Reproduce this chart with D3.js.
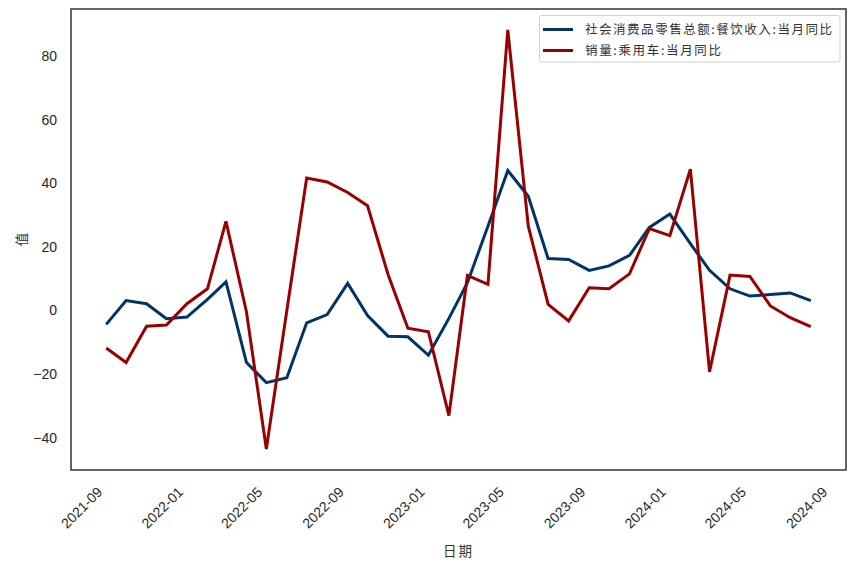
<!DOCTYPE html>
<html>
<head>
<meta charset="utf-8">
<script src="https://cdn.jsdelivr.net/npm/d3@7"></script>
<style>
  html, body { margin: 0; padding: 0; background: #fff; }
  svg { display: block; }
</style>
</head>
<body>
<svg id="chart" width="855" height="566"></svg>
<script>
// ---- data ----
const startMonth = "2021-09";
const seriesNames = ["社会消费品零售总额:餐饮收入:当月同比", "销量:乘用车:当月同比"];
const cateringYoY = [-4.4, 3.1, 2.1, -2.6, -2.1, 3.5, 9.0, -16.4, -22.7, -21.2, -3.9, -1.3,
                     8.5, -1.6, -8.1, -8.3, -14.1, -2.5, 8.7, 26.5, 44.0, 35.9, 16.3, 16.0,
                     12.6, 14.0, 17.3, 26.1, 30.3, 21.0, 12.6, 6.8, 4.5, 5.0, 5.5, 3.1];
const carSalesYoY = [-11.8, -16.4, -5.0, -4.6, 2.1, 6.8, 28.0, -0.5, -43.6, 0.0, 41.6, 40.4,
                     37.1, 32.9, 11.3, -5.6, -6.7, -33.1, 11.0, 8.2, 88.2, 26.5, 1.9, -3.3,
                     7.1, 6.8, 11.5, 25.7, 23.5, 44.4, -19.3, 11.1, 10.7, 1.4, -2.3, -5.1];
const xTickLabels = ["2021-09", "2022-01", "2022-05", "2022-09", "2023-01", "2023-05",
                     "2023-09", "2024-01", "2024-05", "2024-09"];
const yTickValues = [-40, -20, 0, 20, 40, 60, 80];
const xLabel = "日期";
const yLabel = "值";
const colors = ["#003366", "#990000"];

// ---- build ----
const parseMonth = d3.timeParse("%Y-%m");
const start = parseMonth(startMonth);
const dates = cateringYoY.map((_, i) => d3.timeMonth.offset(start, i));
const series = [cateringYoY, carSalesYoY];

const svg = d3.select("#chart");
const plot = { left: 71, right: 846, top: 9, bottom: 470 };

const t0 = +dates[0], t1 = +dates[dates.length - 1];
const tp = (t1 - t0) * 0.05;
const x = d3.scaleTime().domain([new Date(t0 - tp), new Date(t1 + tp)]).range([plot.left, plot.right]);

const allVals = series.flat();
const vmin = d3.min(allVals), vmax = d3.max(allVals);
const vp = (vmax - vmin) * 0.05;
const y = d3.scaleLinear().domain([vmin - vp, vmax + vp]).range([plot.bottom, plot.top]);

const tickFont = "'Liberation Sans', Arial, sans-serif";
const cjkFont = "'Noto Sans CJK SC', sans-serif";
const textColor = "#262626";

// y axis tick labels
const yAxis = d3.axisLeft(y).tickValues(yTickValues).tickSize(0).tickPadding(14)
  .tickFormat(d3.format("d"));
const gy = svg.append("g").attr("transform", `translate(${plot.left},0)`).call(yAxis);
gy.select(".domain").remove();
gy.selectAll("text").attr("font-family", tickFont).attr("font-size", 14).attr("fill", textColor);

// x axis tick labels
const xTicks = xTickLabels.map(parseMonth);
const gx = svg.append("g");
gx.selectAll("text").data(xTicks).join("text")
  .attr("transform", d => `translate(${x(d) - 3},${493}) rotate(-45)`)
  .attr("text-anchor", "end")
  .attr("font-family", tickFont).attr("font-size", 14).attr("fill", textColor)
  .text((d, i) => xTickLabels[i]);

// lines
const line = d3.line().x((d, i) => x(dates[i])).y(d => y(d));
const clipId = "plotclip";
svg.append("clipPath").attr("id", clipId).append("rect")
  .attr("x", plot.left).attr("y", plot.top)
  .attr("width", plot.right - plot.left).attr("height", plot.bottom - plot.top);
svg.append("g").attr("clip-path", `url(#${clipId})`)
  .selectAll("path").data(series).join("path")
  .attr("d", d => line(d))
  .attr("fill", "none")
  .attr("stroke", (d, i) => colors[i])
  .attr("stroke-width", 3)
  .attr("stroke-linejoin", "miter")
  .attr("stroke-linecap", "butt");

// frame
svg.append("rect")
  .attr("x", plot.left).attr("y", plot.top)
  .attr("width", plot.right - plot.left).attr("height", plot.bottom - plot.top)
  .attr("fill", "none").attr("stroke", "#333").attr("stroke-width", 1.5);

// axis labels
svg.append("text")
  .attr("x", (plot.left + plot.right) / 2).attr("y", 556)
  .attr("text-anchor", "middle")
  .attr("font-family", cjkFont).attr("font-size", 13.5).attr("fill", "#333")
  .attr("letter-spacing", 2)
  .text(xLabel);
svg.append("text")
  .attr("transform", `translate(27,${(plot.top + plot.bottom) / 2}) rotate(-90)`)
  .attr("text-anchor", "middle")
  .attr("font-family", cjkFont).attr("font-size", 13.5).attr("fill", "#333")
  .text(yLabel);

// legend
const lg = svg.append("g");
lg.append("rect")
  .attr("x", 539.5).attr("y", 15.5).attr("width", 300.5).attr("height", 46.5)
  .attr("rx", 2.5).attr("ry", 2.5)
  .attr("fill", "#fff").attr("fill-opacity", 0.8)
  .attr("stroke", "#d0d0d0").attr("stroke-width", 1);
const legendWidths = [247, 136];
seriesNames.forEach((name, i) => {
  const ly = 29.5 + i * 21;
  lg.append("line")
    .attr("x1", 543).attr("x2", 573).attr("y1", ly).attr("y2", ly)
    .attr("stroke", colors[i]).attr("stroke-width", 3);
  lg.append("text")
    .attr("x", 585).attr("y", ly + 4.5)
    .attr("font-family", cjkFont).attr("font-size", 12.5).attr("fill", "#333")
    .attr("textLength", legendWidths[i]).attr("lengthAdjust", "spacing")
    .text(name);
});
</script>
</body>
</html>
